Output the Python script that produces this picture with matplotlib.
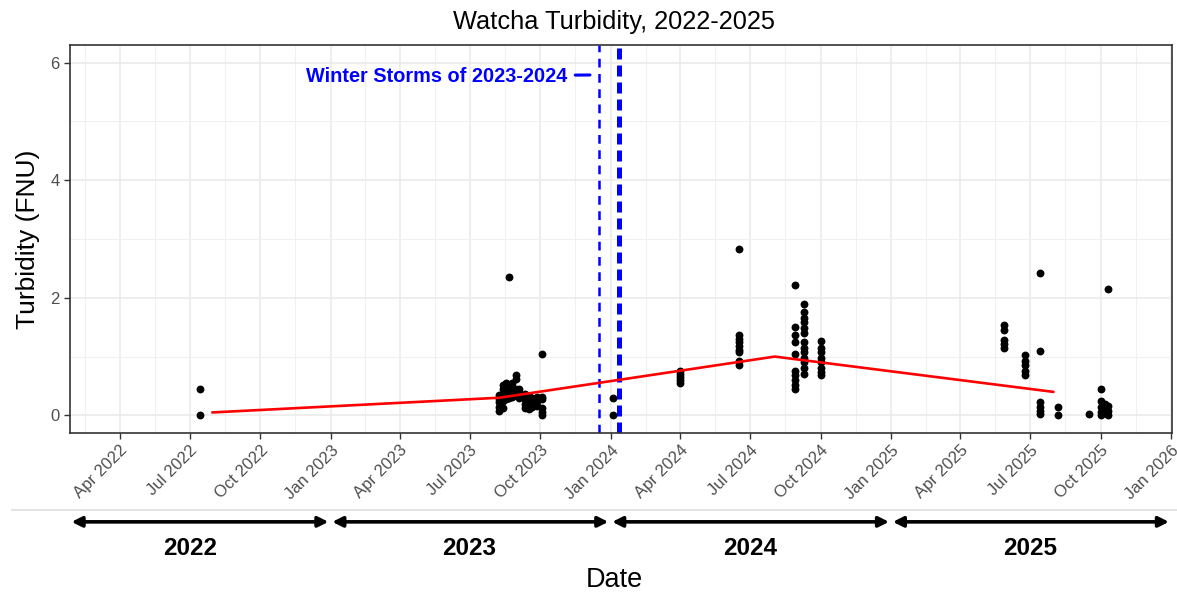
import matplotlib
matplotlib.use("Agg")
import matplotlib.pyplot as plt
import matplotlib.dates as mdates
from matplotlib.lines import Line2D
import numpy as np
import pandas as pd

# ---------------- data ----------------
obs_dates = [
    "2022-07-15",
    "2023-08-09", "2023-08-13", "2023-08-17", "2023-08-21", "2023-08-25",
    "2023-08-30", "2023-09-04", "2023-09-11", "2023-09-16", "2023-09-21",
    "2023-09-27", "2023-10-03", "2024-01-04",
    "2024-04-01", "2024-06-17", "2024-08-28", "2024-09-09", "2024-10-01",
    "2025-05-28", "2025-06-24", "2025-07-14", "2025-08-06", "2025-09-16",
    "2025-10-02", "2025-10-07", "2025-10-10",
]
obs_values = [
    [0.45, 0.0],
    [0.08, 0.15, 0.22, 0.28, 0.35],
    [0.12, 0.25, 0.35, 0.45, 0.52],
    [0.28, 0.36, 0.42, 0.50, 0.55],
    [2.35, 0.30, 0.38, 0.46],
    [0.32, 0.40, 0.48, 0.55],
    [0.35, 0.45, 0.62, 0.68],
    [0.30, 0.38, 0.44],
    [0.12, 0.20, 0.28, 0.36],
    [0.10, 0.18, 0.26, 0.33],
    [0.14, 0.22, 0.30],
    [0.16, 0.24, 0.32],
    [1.05, 0.32, 0.27, 0.12, 0.05, 0.0],
    [0.30, 0.0],
    [0.55, 0.60, 0.65, 0.70, 0.76],
    [2.83, 1.36, 1.30, 1.24, 1.18, 1.12, 1.07, 0.93, 0.86],
    [2.22, 1.50, 1.37, 1.25, 1.05, 0.76, 0.68, 0.60, 0.52, 0.44],
    [1.90, 1.75, 1.66, 1.58, 1.49, 1.40, 1.24, 1.15, 1.07, 0.98, 0.90, 0.81, 0.70],
    [1.27, 1.15, 1.07, 0.98, 0.90, 0.81, 0.73, 0.68],
    [1.54, 1.46, 1.29, 1.22, 1.15],
    [1.02, 0.93, 0.85, 0.76, 0.68],
    [2.43, 1.10, 0.22, 0.15, 0.08, 0.02],
    [0.14, 0.0],
    [0.02],
    [0.44, 0.25, 0.15, 0.05, 0.0],
    [0.20, 0.12, 0.04],
    [2.15, 0.16, 0.08, 0.0],
]

trend_dates = ["2022-07-31", "2023-08-09", "2024-08-02", "2025-07-31"]
trend_values = [0.05, 0.30, 1.00, 0.40]

storm_dates = ["2023-12-17", "2024-01-12"]
storm_label = "Winter Storms of 2023-2024"

years = ["2022", "2023", "2024", "2025"]
x_limits = ["2022-01-26", "2026-01-02"]
y_ticks = [0, 2, 4, 6]

# ---------------- build ----------------
px, py = [], []
for d, vals in zip(obs_dates, obs_values):
    for v in vals:
        px.append(pd.Timestamp(d))
        py.append(v)

plt.rcParams['font.family'] = ['Liberation Sans', 'DejaVu Sans']

fig = plt.figure(figsize=(11.77, 5.94), dpi=100)
ax = fig.add_axes([70 / 1177, 1 - 433 / 594, (1172 - 70) / 1177, (433 - 45) / 594])

ax.set_xlim(pd.Timestamp(x_limits[0]), pd.Timestamp(x_limits[1]))
ax.set_ylim(-0.3, 6.3)

# grid
major_ticks = pd.date_range("2022-04-01", "2026-01-01", freq="QS")
all_q = pd.date_range("2022-01-01", "2026-01-01", freq="QS")
minor_ticks = [all_q[i] + (all_q[i + 1] - all_q[i]) / 2 for i in range(len(all_q) - 1)]
for t in major_ticks:
    ax.axvline(t, color="#EBEBEB", lw=1.2, zorder=0)
for t in minor_ticks:
    ax.axvline(t, color="#F0F0F0", lw=0.8, zorder=0)
for v in y_ticks:
    ax.axhline(v, color="#EBEBEB", lw=1.2, zorder=0)
for v in [1, 3, 5]:
    ax.axhline(v, color="#F0F0F0", lw=0.8, zorder=0)

# storm lines
ax.axvline(pd.Timestamp(storm_dates[0]), color="#0000FF", lw=1.8,
           dashes=(3.5, 2.6), zorder=2)
ax.axvline(pd.Timestamp(storm_dates[1]), color="#0000FF", lw=3.6,
           dashes=(2.2, 1.2), zorder=2)

ax.annotate(storm_label, xy=(pd.Timestamp("2023-12-05"), 5.79),
            xytext=(pd.Timestamp("2023-11-05"), 5.77),
            ha="right", va="center", color="#0000FF", fontsize=14.3,
            fontweight="bold",
            arrowprops=dict(arrowstyle="-", color="#0000FF", lw=2.2,
                            shrinkA=4, shrinkB=0))

# points and trend
ax.scatter(px, py, s=32, color="black", zorder=3, linewidths=0)
ax.plot(pd.to_datetime(trend_dates), trend_values, color="#FF0000", lw=1.9, zorder=4)

# axes styling
ax.set_xticks(major_ticks)
ax.xaxis.set_major_formatter(mdates.DateFormatter("%b %Y"))
for lab in ax.get_xticklabels():
    lab.set_rotation(45)
    lab.set_ha("right")
    lab.set_va("top")
    lab.set_rotation_mode("anchor")
ax.set_yticks(y_ticks)
ax.tick_params(axis="both", colors="#333333", length=4, width=1,
               labelcolor="#4D4D4D", labelsize=12)
ax.tick_params(axis="x", pad=3)
for s in ax.spines.values():
    s.set_color("#333333")
    s.set_linewidth(1.2)

ax.set_ylabel("Turbidity (FNU)", fontsize=19, color="black", labelpad=7)
fig.text(614 / 1177, 1 - 22 / 594, "Watcha Turbidity, 2022-2025", ha="center",
         va="center", fontsize=18.3, color="black")
fig.text(614 / 1177, 1 - 580 / 594, "Date", ha="center", va="center",
         fontsize=19.5, color="black")

# separator
fig.add_artist(Line2D([0.01, 1.0], [1 - 510 / 594, 1 - 510 / 594],
                      transform=fig.transFigure, color="#DDDDDD", lw=1.2))

# year arrows
trans = ax.get_xaxis_transform()
xmin = pd.Timestamp(x_limits[0])
for y in years:
    start = max(pd.Timestamp(f"{y}-01-01") + pd.Timedelta(days=2), xmin + pd.Timedelta(days=2))
    end = pd.Timestamp(f"{int(y) + 1}-01-01") - pd.Timedelta(days=3)
    ax.annotate("", xy=(mdates.date2num(end), -0.229),
                xytext=(mdates.date2num(start), -0.229),
                xycoords=trans, textcoords=trans, annotation_clip=False,
                arrowprops=dict(arrowstyle="<|-|>,head_length=0.6,head_width=0.3",
                                color="black", lw=2.6, shrinkA=0, shrinkB=0))
    ax.text(mdates.date2num(pd.Timestamp(f"{y}-07-01")), -0.297, y,
            transform=trans, ha="center", va="center", fontsize=17.5,
            fontweight="bold", color="black", clip_on=False)

fig.savefig("out.png", dpi=100)
